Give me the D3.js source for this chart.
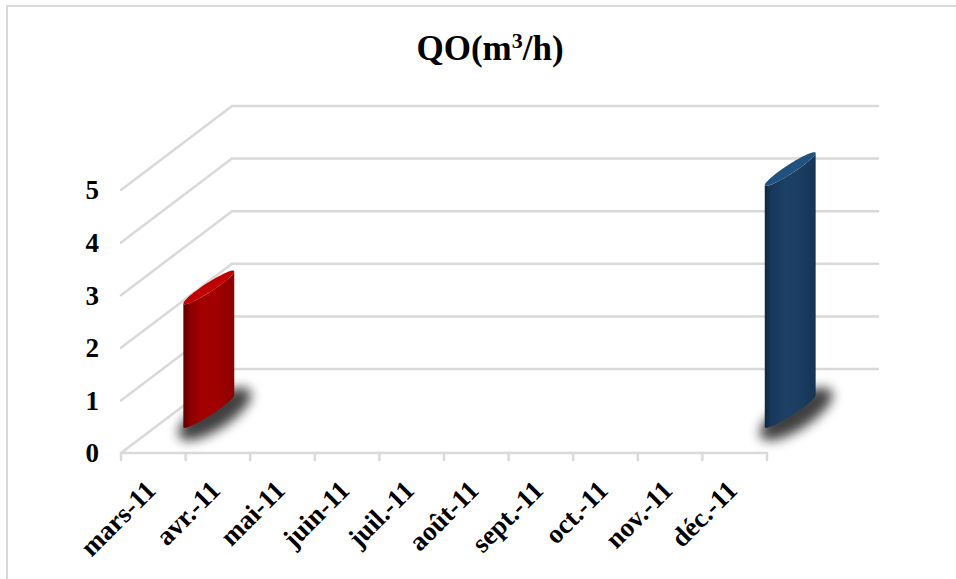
<!DOCTYPE html>
<html>
<head>
<meta charset="utf-8">
<script src="https://cdn.jsdelivr.net/npm/d3@7"></script>
<style>
  html, body { margin: 0; padding: 0; background: #fff; }
  svg { display: block; }
</style>
</head>
<body>
<svg id="chart" width="956" height="579"></svg>
<script>
// Monthly flow QO (m³/h)
const categories = ["mars-11", "avr.-11", "mai-11", "juin-11", "juil.-11",
                    "août-11", "sept.-11", "oct.-11", "nov.-11", "déc.-11"];
const values = [2.35, null, null, null, null, null, null, null, null, 4.6];
const barColors = ["red", null, null, null, null, null, null, null, null, "blue"];
const yTicks = [0, 1, 2, 3, 4, 5];

const W = 956, H = 579;
const svg = d3.select("#chart");
const font = "'Liberation Serif', 'Times New Roman', serif";

// Frame
svg.append("rect").attr("x", 7).attr("y", 6).attr("width", W).attr("height", H)
  .attr("fill", "#fff").attr("stroke", "#d9d9d9").attr("stroke-width", 2);

// Oblique 3D geometry: front floor edge and depth offset
const front = { left: 121, right: 767, base: 453 };
const depth = { dx: 111, dy: -84 };

const x = d3.scaleBand().domain(categories).range([front.left, front.right]);
const y = d3.scaleLinear().domain([0, 5]).range([front.base, 190]);

const defs = svg.append("defs");
const grads = {
  red:  { side: ["#5a0000", "#8c0000", "#a40000", "#a00000", "#8a0000"], cap: "#c00000" },
  blue: { side: ["#0f2740", "#17375a", "#1d4066", "#1b3d61", "#163454"], cap: "#21527f" }
};
Object.entries(grads).forEach(([k, g]) => {
  const lg = defs.append("linearGradient").attr("id", "side-" + k)
    .attr("x1", 0).attr("x2", 1).attr("y1", 0).attr("y2", 0);
  [0, 0.12, 0.4, 0.7, 1].forEach((o, i) =>
    lg.append("stop").attr("offset", o).attr("stop-color", g.side[i]));
});
defs.append("filter").attr("id", "soft").attr("x", "-50%").attr("y", "-50%")
  .attr("width", "200%").attr("height", "200%")
  .append("feGaussianBlur").attr("stdDeviation", 6);

// Gridlines: back wall and left side wall
const grid = svg.append("g").attr("stroke", "#d9d9d9").attr("stroke-width", 2.5)
  .attr("fill", "none").attr("stroke-linecap", "round");
yTicks.forEach(v => {
  grid.append("line")
    .attr("x1", front.left + depth.dx).attr("x2", front.right + depth.dx)
    .attr("y1", y(v) + depth.dy).attr("y2", y(v) + depth.dy);
  grid.append("line")
    .attr("x1", front.left).attr("y1", y(v))
    .attr("x2", front.left + depth.dx).attr("y2", y(v) + depth.dy);
});
// Front floor edge with category ticks
grid.append("line").attr("x1", front.left).attr("x2", front.right)
  .attr("y1", front.base).attr("y2", front.base);
const boundaries = categories.map(c => x(c)).concat([front.right]);
boundaries.forEach(bx => {
  grid.append("line").attr("x1", bx).attr("x2", bx)
    .attr("y1", front.base).attr("y2", front.base + 7);
});

// Value axis labels
svg.append("g").selectAll("text").data(yTicks).join("text")
  .attr("x", 99).attr("y", d => y(d)).attr("dy", "0.35em")
  .attr("text-anchor", "end").attr("font-family", font).attr("font-weight", "bold")
  .attr("font-size", 27).attr("fill", "#000").text(d => d);

// Category labels
svg.append("g").selectAll("text").data(categories).join("text")
  .attr("transform", d => `translate(${x(d) + x.bandwidth() / 2 + 4},${front.base + 39}) rotate(-45)`)
  .attr("text-anchor", "end").attr("font-family", font).attr("font-weight", "bold")
  .attr("font-size", 27).attr("fill", "#000").text(d => d);

// Cylinders: elliptical cross-section seen obliquely
const phi = 33 * Math.PI / 180, A = 30.2, B = 4.5;
const m = [Math.cos(phi), -Math.sin(phi)], n = [Math.sin(phi), Math.cos(phi)];
function pt(cx, cy, t, s = 1, sb = 1) {
  const a = A * s * Math.cos(t), b = B * sb * Math.sin(t);
  return [cx + a * m[0] + b * n[0], cy + a * m[1] + b * n[1]];
}
function arc(cx, cy, t0, t1, k, s, sb) {
  const pts = [];
  for (let i = 0; i <= k; i++) pts.push(pt(cx, cy, t0 + (t1 - t0) * i / k, s, sb));
  return pts;
}
const tR = Math.atan2(B * Math.sin(phi), A * Math.cos(phi));
const bars = svg.append("g");
categories.forEach((c, i) => {
  const v = values[i];
  if (v == null) return;
  const g = grads[barColors[i]];
  const cx = x(c) + x.bandwidth() / 2 + depth.dx / 2;
  const cyB = y(0) + depth.dy / 2;
  const cyT = y(v) + depth.dy / 2;

  // floor shadow
  bars.append("path").attr("d", d3.line()(arc(cx + 6, cyB + 3, 0, 2 * Math.PI, 60, 1.4, 3.4)) + "Z")
    .attr("fill", "#000").attr("opacity", 0.75).attr("filter", "url(#soft)");

  // side: front half of base, up the right edge, front half of top back down
  const bottomFront = arc(cx, cyB, tR + Math.PI, tR, 40);
  const topFront = arc(cx, cyT, tR, tR + Math.PI, 40);
  bars.append("path").attr("d", d3.line()(bottomFront.concat(topFront)) + "Z")
    .attr("fill", `url(#side-${barColors[i]})`);
  // top cap
  bars.append("path").attr("d", d3.line()(arc(cx, cyT, 0, 2 * Math.PI, 60)) + "Z")
    .attr("fill", g.cap);
});

// Title
const title = svg.append("text").attr("x", 490).attr("y", 60)
  .attr("text-anchor", "middle").attr("font-family", font).attr("font-weight", "bold")
  .attr("font-size", 35).attr("fill", "#000");
title.append("tspan").text("QO(m");
title.append("tspan").attr("font-size", 22).attr("dy", -12).text("3");
title.append("tspan").attr("dy", 12).text("/h)");
</script>
</body>
</html>
